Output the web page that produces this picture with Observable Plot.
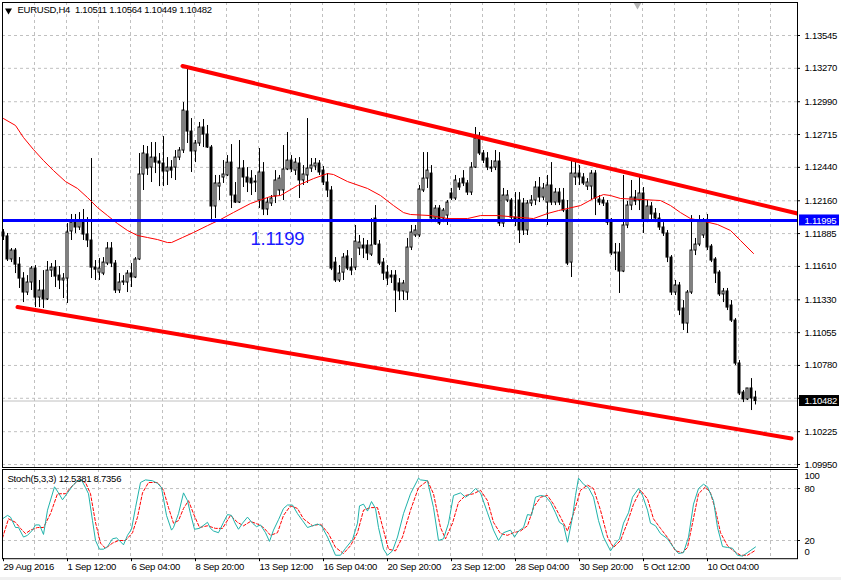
<!DOCTYPE html>
<html><head><meta charset="utf-8">
<script src="https://cdn.jsdelivr.net/npm/d3@7"></script>
<script src="https://cdn.jsdelivr.net/npm/@observablehq/plot@0.6"></script>
<style>
html,body{margin:0;padding:0;background:#fff;}
#wrap{position:relative;width:841px;height:580px;overflow:hidden;background:#fff;}
#main{position:absolute;left:0;top:0;}
#stoch{position:absolute;left:0;top:467px;}
#strip{position:absolute;left:0;top:577px;width:841px;height:3px;background:#f0f0f0;}
#wrap svg{overflow:visible;}
#wrap svg text{letter-spacing:-0.25px;}
</style></head>
<body><div id="wrap"><div id="main"></div><div id="stoch"></div><div id="strip"></div></div>
<script>
// ---- data (bar index 0..188, H4 EURUSD) ----
const O = [1.11894,1.11861,1.11668,1.11743,1.11625,1.11508,1.11391,1.11475,1.11592,1.11349,1.11408,1.11333,1.11575,1.11600,1.11533,1.11492,1.11508,1.11903,1.11977,1.11936,
1.11994,1.11877,1.11827,1.11600,1.11558,1.11550,1.11634,1.11760,1.11634,1.11408,1.11475,1.11475,1.11550,1.11517,1.11668,1.12380,1.12548,1.12438,1.12522,1.12489,
1.12472,1.12405,1.12438,1.12438,1.12522,1.12581,1.12908,1.12740,1.12573,1.12640,1.12774,1.12715,1.12606,1.12112,1.12279,1.12355,1.12372,1.12480,1.12204,1.12145,
1.12430,1.12355,1.12346,1.12313,1.12162,1.12397,1.12087,1.12137,1.12196,1.12246,1.12246,1.12422,1.12497,1.12413,1.12472,1.12330,1.12372,1.12430,1.12447,1.12472,
1.12413,1.12313,1.12246,1.11642,1.11492,1.11558,1.11693,1.11600,1.11600,1.11760,1.11785,1.11785,1.11709,1.12011,1.11793,1.11642,1.11558,1.11533,1.11533,1.11467,
1.11400,1.11391,1.11768,1.11869,1.11869,1.12246,1.12346,1.12388,1.12011,1.12095,1.12011,1.12036,1.12221,1.12179,1.12305,1.12346,1.12305,1.12229,1.12438,1.12682,
1.12556,1.12514,1.12438,1.12438,1.12489,1.11969,1.12162,1.12162,1.12019,1.12162,1.12137,1.11911,1.12137,1.12162,1.12271,1.12187,1.12145,1.12288,1.12145,1.12229,
1.12162,1.12078,1.11642,1.12355,1.12388,1.12355,1.12279,1.12279,1.12388,1.12170,1.12162,1.12137,1.11994,1.11726,1.11726,1.11567,1.11953,1.12120,1.12187,1.12162,
1.12221,1.11994,1.12112,1.12053,1.12011,1.11936,1.11886,1.11684,1.11391,1.11450,1.11257,1.11131,1.11391,1.11743,1.11793,1.11869,1.11994,1.11776,1.11668,1.11558,
1.11375,1.11400,1.11282,1.11156,1.10796,1.10553,1.10495,1.10587,1.10511];
const H = [1.11919,1.11886,1.11760,1.11760,1.11684,1.11558,1.11533,1.11609,1.11617,1.11492,1.11575,1.11651,1.11634,1.11659,1.11609,1.11550,1.11969,1.12045,1.12045,1.12061,
1.12087,1.12019,1.12514,1.11659,1.11676,1.11684,1.11810,1.11810,1.11659,1.11550,1.11533,1.11575,1.11634,1.11684,1.12556,1.12623,1.12615,1.12648,1.12648,1.12556,
1.12698,1.12522,1.12497,1.12581,1.12606,1.12983,1.13268,1.12849,1.12665,1.12816,1.12841,1.12791,1.12623,1.12372,1.12372,1.12497,1.12539,1.12631,1.12313,1.12665,
1.12497,1.12438,1.12413,1.12372,1.12598,1.12480,1.12179,1.12204,1.12413,1.12372,1.12623,1.12732,1.12539,1.12514,1.12522,1.12455,1.12849,1.12514,1.12514,1.12497,
1.12447,1.12388,1.12279,1.11684,1.11617,1.11718,1.11743,1.11676,1.11953,1.11869,1.11844,1.11827,1.12011,1.12120,1.11827,1.11676,1.11617,1.11575,1.11575,1.11508,
1.11492,1.11844,1.11953,1.11953,1.12288,1.12564,1.12564,1.12455,1.12120,1.12120,1.12095,1.12162,1.12263,1.12372,1.12346,1.12413,1.12330,1.12480,1.12774,1.12732,
1.12581,1.12564,1.12497,1.12581,1.12564,1.12263,1.12246,1.12179,1.12229,1.12229,1.12179,1.12162,1.12204,1.12321,1.12355,1.12305,1.12372,1.12480,1.12263,1.12263,
1.12263,1.12162,1.12497,1.12497,1.12455,1.12388,1.12346,1.12413,1.12413,1.12204,1.12187,1.12162,1.12011,1.11802,1.11802,1.12372,1.12154,1.12330,1.12246,1.12372,
1.12271,1.12162,1.12145,1.12095,1.12053,1.11977,1.11911,1.11701,1.11492,1.11475,1.11324,1.11408,1.12036,1.11844,1.12036,1.12011,1.12045,1.11793,1.11684,1.11575,
1.11425,1.11425,1.11324,1.11173,1.10821,1.10570,1.10587,1.10670,1.10564];
const L = [1.11827,1.11651,1.11642,1.11550,1.11425,1.11307,1.11366,1.11408,1.11265,1.11265,1.11257,1.11324,1.11517,1.11433,1.11416,1.11341,1.11299,1.11827,1.11886,1.11911,
1.11827,1.11768,1.11508,1.11492,1.11492,1.11533,1.11617,1.11600,1.11383,1.11383,1.11450,1.11391,1.11433,1.11508,1.11659,1.12246,1.12372,1.12313,1.12388,1.12279,
1.12279,1.12288,1.12346,1.12330,1.12497,1.12556,1.12640,1.12397,1.12480,1.12615,1.12606,1.12598,1.11977,1.12011,1.12162,1.12305,1.12363,1.12095,1.12137,1.12137,
1.12271,1.12229,1.12204,1.12229,1.12095,1.12036,1.12036,1.12112,1.12137,1.12204,1.12162,1.12413,1.12397,1.12372,1.12179,1.12288,1.12305,1.12397,1.12413,1.12372,
1.12288,1.12187,1.11575,1.11475,1.11475,1.11492,1.11575,1.11533,1.11575,1.11701,1.11676,1.11659,1.11693,1.11785,1.11617,1.11492,1.11450,1.11467,1.11224,1.11324,
1.11324,1.11324,1.11743,1.11852,1.11852,1.12229,1.12263,1.11977,1.11977,1.11953,1.11977,1.11953,1.12162,1.12162,1.12246,1.12279,1.12204,1.12204,1.12430,1.12539,
1.12472,1.12413,1.12397,1.12413,1.11944,1.11936,1.12145,1.11994,1.11944,1.11802,1.11869,1.11869,1.12112,1.12120,1.12145,1.12162,1.11953,1.12120,1.12120,1.12120,
1.12061,1.11617,1.11517,1.12288,1.12288,1.12288,1.12246,1.12162,1.12036,1.12120,1.12112,1.11953,1.11701,1.11575,1.11383,1.11558,1.11927,1.12078,1.12120,1.12078,
1.11886,1.11977,1.11994,1.11977,1.11911,1.11861,1.11642,1.11366,1.11366,1.11198,1.11073,1.11048,1.11375,1.11701,1.11776,1.11844,1.11743,1.11642,1.11467,1.11358,
1.11307,1.11240,1.11140,1.10779,1.10528,1.10469,1.10486,1.10402,1.10449];
const C = [1.11861,1.11668,1.11743,1.11625,1.11508,1.11391,1.11475,1.11592,1.11349,1.11408,1.11333,1.11575,1.11600,1.11525,1.11492,1.11508,1.11894,1.11977,1.11936,1.11994,
1.11877,1.11827,1.11600,1.11583,1.11592,1.11642,1.11760,1.11634,1.11408,1.11475,1.11484,1.11550,1.11517,1.11668,1.12380,1.12556,1.12430,1.12522,1.12480,1.12472,
1.12405,1.12438,1.12413,1.12522,1.12581,1.12916,1.12740,1.12573,1.12640,1.12774,1.12715,1.12606,1.12112,1.12305,1.12305,1.12380,1.12480,1.12204,1.12145,1.12430,
1.12355,1.12313,1.12305,1.12321,1.12397,1.12087,1.12145,1.12179,1.12330,1.12346,1.12422,1.12497,1.12422,1.12480,1.12330,1.12380,1.12430,1.12455,1.12472,1.12397,
1.12313,1.12246,1.11592,1.11492,1.11550,1.11684,1.11592,1.11575,1.11818,1.11810,1.11760,1.11718,1.11785,1.11793,1.11634,1.11550,1.11508,1.11517,1.11408,1.11400,
1.11467,1.11768,1.11894,1.11911,1.12254,1.12346,1.12413,1.12011,1.12095,1.11969,1.12078,1.12145,1.12179,1.12330,1.12271,1.12305,1.12229,1.12438,1.12682,1.12556,
1.12497,1.12438,1.12430,1.12489,1.11969,1.12204,1.12204,1.12019,1.11994,1.11911,1.11911,1.12137,1.12162,1.12271,1.12187,1.12263,1.12288,1.12145,1.12229,1.12145,
1.12078,1.11634,1.12388,1.12388,1.12355,1.12305,1.12313,1.12388,1.12179,1.12145,1.12137,1.11977,1.11718,1.11718,1.11567,1.11953,1.12120,1.12187,1.12154,1.12221,
1.11994,1.12112,1.12045,1.12011,1.11936,1.11886,1.11684,1.11391,1.11450,1.11240,1.11131,1.11391,1.11743,1.11793,1.11994,1.11994,1.11768,1.11659,1.11550,1.11375,
1.11400,1.11265,1.11156,1.10796,1.10545,1.10495,1.10587,1.10503,1.10482];

// moving average (thin red) read at points along the line: [bar, price]
const maPoints = [[0,1.12849],[3,1.12791],[5,1.12690],[7.5,1.12589],[10,1.12497],[12.5,1.12413],[15.5,1.12321],[18.5,1.12263],[21,1.12187],[23.5,1.12103],[26,1.12036],[28.5,1.11969],[31,1.11911],[33.5,1.11869],[36,1.11852],[38.5,1.11835],[41,1.11810],[42,1.11810],[44.75,1.11852],[47.5,1.11894],[51,1.11952],[54.25,1.12003],[57.5,1.12062],[61.75,1.12137],[66.75,1.12196],[69.25,1.12204],[73.5,1.12288],[77.5,1.12346],[81,1.12388],[82.5,1.12380],[86,1.12321],[91,1.12263],[94.25,1.12204],[97.5,1.12120],[100,1.12061],[101.75,1.12045],[106.75,1.12036],[111,1.12011],[116,1.12011],[119.25,1.12036],[123.5,1.12036],[132.5,1.12011],[136,1.12053],[138.75,1.12078],[144.25,1.12120],[147.5,1.12179],[150,1.12212],[151.75,1.12204],[154.25,1.12179],[160,1.12170],[164.25,1.12162],[166.75,1.12120],[169.25,1.12061],[171.75,1.12011],[174.25,1.11994],[178.5,1.11961],[181.75,1.11911],[184.25,1.11827],[187.5,1.11718]];

// channel trend lines [bar, price]
const upperLine = [[44.75,1.13289],[198.5,1.12053]];
const lowerLine = [[3.5,1.11270],[197,1.10168]];
const levelPrice = 1.11995;
const levelText = "1.1199";
const levelTextPos = [61.75, 1.11835];
const lastPrice = 1.10482;
const titleText = "EURUSD,H4  1.10511 1.10564 1.10449 1.10482";

// price axis (grid includes the 1.10505 line whose label is hidden by the price box)
const gridPrices = [1.13545,1.13270,1.12990,1.12715,1.12440,1.12160,1.11885,1.11610,1.11330,1.11055,1.10780,1.10505,1.10225,1.09950];
const labelPrices = [1.13545,1.13270,1.12990,1.12715,1.12440,1.12160,1.11885,1.11610,1.11330,1.11055,1.10780,1.10225,1.09950];
const gridBars = [7.75,15.75,23.75,31.75,39.75,47.75,55.75,63.75,71.75,79.75,87.75,95.75,103.75,111.75,119.75,127.75,135.75,143.75,151.75,159.75,167.75,175.75,183.75,191.75];
const tickBars = [-0.25,15.75,31.75,47.75,63.75,79.75,95.75,111.75,127.75,143.75,159.75,175.75];
const tickLabels = ["29 Aug 2016","1 Sep 12:00","6 Sep 04:00","8 Sep 20:00","13 Sep 12:00","16 Sep 04:00","20 Sep 20:00","23 Sep 12:00","28 Sep 04:00","30 Sep 20:00","5 Oct 12:00","10 Oct 04:00"];

// stochastic (5,3,3): [bar, value]
const kPoints = [[-0.25,45],[1,49],[1.75,47],[3,35],[3.75,35],[5,24],[6,26],[7.25,32],[8,38],[9,38],[10,27],[11,55],[12.75,82],[13.75,75],[14.75,67],[16,75],[17.25,83],[18.5,89],[19.5,90],[20.5,81],[21.25,74],[22.25,43],[23,20],[24,10],[25,10],[26,13],[27.25,22],[28.25,23],[28.75,21],[30,15],[31,26],[32,33],[33,58],[34.25,87],[35.5,90],[37.25,89],[38.5,86],[39.5,81],[40.75,49],[42,32],[42.5,35],[43.75,51],[45,75],[46,66],[46.75,51],[47.75,33],[49,34],[51,41],[51.75,34],[52.5,31],[53.75,29],[55,41],[56,50],[57,49],[58,39],[58.75,33],[59.75,40],[61,47],[62.25,40],[63.25,36],[64.25,38],[65.5,29],[66.5,19],[67.5,32],[68.75,44],[70,57],[71,61],[72.25,61],[73.5,51],[74.75,43],[76,35],[77.25,37],[78.5,39],[79.5,37],[81,24],[82.25,11],[83,3],[84.25,3],[85.5,11],[87.25,21],[88.5,40],[89,60],[90,62],[91,54],[92,65],[93,57],[93.75,35],[95,10],[96,3],[97.25,8],[98.5,24],[100,51],[101.75,74],[103.75,92],[104.25,90],[106,89],[107.5,58],[108.75,20],[110,22],[111.25,40],[112.5,72],[114.25,75],[115.5,70],[116.75,74],[118,80],[119.25,75],[121,52],[122.5,32],[123.75,20],[125,29],[126.75,32],[127.75,24],[128.75,31],[130,35],[131,50],[132,49],[133,70],[134.25,72],[135.5,71],[136.75,64],[138,52],[139,41],[140,38],[141,18],[142.25,47],[143,72],[143.75,92],[145,85],[146.25,81],[147.5,70],[148.75,43],[150,24],[151.75,8],[153,17],[154,22],[155,40],[156.25,52],[157.25,70],[158.75,80],[159.75,72],[161,55],[161.75,40],[163,37],[164.25,28],[166,22],[167.5,12],[168.75,5],[170,6],[171.25,24],[172.5,62],[173.75,80],[175,85],[176,82],[177.5,66],[178.5,35],[179.75,13],[181,12],[182.25,11],[183.5,3],[184.75,2],[186,6],[188,12.54]];
const dPoints = [[-0.25,23],[1.25,45],[3,41],[4.25,34],[5.5,28],[6.75,32],[8.5,35],[10,35],[11.75,51],[13.5,74],[15.5,74],[16.75,81],[18.75,90],[20.5,87],[21.75,74],[23,41],[24.25,17],[25.5,11],[27.25,17],[28.75,20],[30.5,20],[32.25,29],[33.5,47],[34.75,75],[36.25,87],[38.5,87],[40,78],[41.25,58],[42.5,40],[43.75,43],[45,57],[46.25,66],[47.5,51],[49,35],[51,37],[53,34],[54.75,34],[56.75,49],[58.5,41],[60,37],[61.75,42],[63.5,39],[65,35],[66.75,26],[68.5,29],[70,49],[71.75,60],[73.5,57],[75,45],[77.25,37],[79.25,39],[81.25,28],[83,12],[85,5],[86.75,14],[88.5,29],[90,55],[91.75,58],[93.5,58],[95,32],[96.25,10],[98,8],[99.75,24],[101.75,55],[103.75,81],[106,89],[107.5,74],[109.25,35],[110.5,22],[112.25,40],[113.75,64],[115.5,72],[117.5,74],[119.25,78],[121,66],[122.5,41],[124.25,28],[126,26],[127.5,29],[129.25,31],[131,37],[132.5,58],[134.25,70],[136,72],[137.5,62],[139.25,47],[141,31],[142.5,51],[144.25,78],[146,84],[147.5,80],[149.25,55],[151,24],[152.5,12],[154.25,20],[156,41],[157.5,62],[159.25,78],[161,68],[162.5,45],[164.25,34],[166.25,22],[168,8],[169.75,6],[171,12],[172.25,40],[173.75,74],[175.5,82],[176.75,75],[178,55],[179.25,29],[181,14],[182.5,8],[184.25,3],[186,3],[188,8.74]];
const stochLevels = [80, 20];
const stochTitle = "Stoch(5,3,3) 12.5381 8.7356";

// ---- build ----
const candles = O.map((o, i) => ({i, o, h: H[i], l: L[i], c: C[i]}));
const asXY = pts => pts.map(([b, v]) => ({b, v}));
const labelMap = new Map(tickBars.map((b, k) => [b, tickLabels[k]]));
const FONT = "'Liberation Sans', Arial, sans-serif";
const GRID = "#c0c0c0";

const main = Plot.plot({
  width: 841, height: 468,
  marginLeft: 2, marginRight: 44, marginTop: 2, marginBottom: 1,
  x: {domain: [-0.25, 198.5], axis: null},
  y: {domain: [1.0992484, 1.1382154], axis: null},
  style: {fontFamily: FONT, fontSize: "9.5px", background: "transparent", overflow: "visible", color: "black"},
  marks: [
    Plot.ruleY(gridPrices, {stroke: GRID, strokeDasharray: "3,3"}),
    Plot.ruleX(gridBars, {stroke: GRID, strokeDasharray: "3,3"}),
    Plot.ruleY([lastPrice], {stroke: "#c0c0c0"}),
    Plot.ruleX(candles, {x: "i", y1: "l", y2: "h", stroke: "black"}),
    Plot.rect(candles, {x1: d => d.i - 0.25, x2: d => d.i + 0.25, y1: "o", y2: "c",
      fill: d => d.c >= d.o ? "white" : "black", stroke: "black", strokeWidth: 1}),
    Plot.line(asXY(maPoints), {x: "b", y: "v", stroke: "red", strokeWidth: 1}),
    Plot.ruleY([levelPrice], {stroke: "blue", strokeWidth: 3}),
    Plot.line(asXY(upperLine), {x: "b", y: "v", stroke: "red", strokeWidth: 4, clip: true}),
    Plot.line(asXY(lowerLine), {x: "b", y: "v", stroke: "red", strokeWidth: 4, clip: true}),
    Plot.text([levelText], {x: () => levelTextPos[0], y: () => levelTextPos[1], text: d => d,
      fill: "#1a1aff", fontSize: 18.5, textAnchor: "start"}),
    Plot.text([titleText], {frameAnchor: "top-left", dx: 15, dy: 3.5, textAnchor: "start", lineAnchor: "top", fill: "black"}),
    Plot.dot([0], {frameAnchor: "top-left", dx: 6, dy: 8, symbol: "triangle", rotate: 180, r: 2.6, fill: "black", stroke: null}),
    Plot.dot([0], {x: () => 158.5, frameAnchor: "top", dy: 2, symbol: "triangle", rotate: 180, r: 3.2, fill: "#b4b4b4", stroke: null}),
    // right price axis
    Plot.ruleY(gridPrices, {x1: () => 198.5, x2: () => 199.25, stroke: "black"}),
    Plot.text(labelPrices, {y: d => d, text: d => d.toFixed(5), frameAnchor: "right", textAnchor: "start", dx: 7, fill: "black"}),
    Plot.rect([levelPrice], {x1: () => 199, x2: () => 209, y1: d => d - 0.00046, y2: d => d + 0.00046, fill: "blue"}),
    Plot.text([levelPrice], {y: d => d, text: d => d.toFixed(5), frameAnchor: "right", textAnchor: "start", dx: 7, fill: "white"}),
    Plot.rect([lastPrice], {x1: () => 199, x2: () => 209, y1: d => d - 0.00046, y2: d => d + 0.00046, fill: "black"}),
    Plot.text([lastPrice], {y: d => d, text: d => d.toFixed(5), frameAnchor: "right", textAnchor: "start", dx: 7, fill: "white"}),
    Plot.frame({stroke: "black"})
  ]
});
document.getElementById("main").append(main);

const stoch = Plot.plot({
  width: 841, height: 113,
  marginLeft: 2, marginRight: 44, marginTop: 2, marginBottom: 21.8,
  x: {domain: [-0.25, 198.5]},
  y: {domain: [-1, 102], axis: null},
  style: {fontFamily: FONT, fontSize: "9.5px", background: "transparent", overflow: "visible", color: "black"},
  marks: [
    Plot.ruleY(stochLevels, {stroke: GRID, strokeDasharray: "3,3"}),
    Plot.ruleX(gridBars, {stroke: GRID, strokeDasharray: "3,3"}),
    Plot.line(asXY(dPoints), {x: "b", y: "v", stroke: "red", strokeWidth: 1, strokeDasharray: "3,2", clip: true}),
    Plot.line(asXY(kPoints), {x: "b", y: "v", stroke: "#20b2aa", strokeWidth: 1, clip: true}),
    Plot.text([stochTitle], {frameAnchor: "top-left", dx: 5, dy: 5.5, textAnchor: "start", lineAnchor: "top", fill: "black"}),
    Plot.ruleY(stochLevels, {x1: () => 198.5, x2: () => 199.25, stroke: "black"}),
    Plot.text(stochLevels, {y: d => d, text: d => String(d), frameAnchor: "right", textAnchor: "start", dx: 7, fill: "black"}),
    Plot.text([100], {y: d => d, text: d => String(d), frameAnchor: "right", textAnchor: "start", dx: 7, dy: 5, fill: "black"}),
    Plot.text([0], {y: d => d, text: d => String(d), frameAnchor: "right", textAnchor: "start", dx: 7, dy: -6, fill: "black"}),
    Plot.frame({stroke: "black"}),
    Plot.axisX(tickBars, {tickFormat: d => labelMap.get(d), textAnchor: "start", dx: 1, tickSize: 3, tickPadding: 2, label: null, fill: "black", stroke: "black"})
  ]
});
document.getElementById("stoch").append(stoch);
</script>
</body></html>
